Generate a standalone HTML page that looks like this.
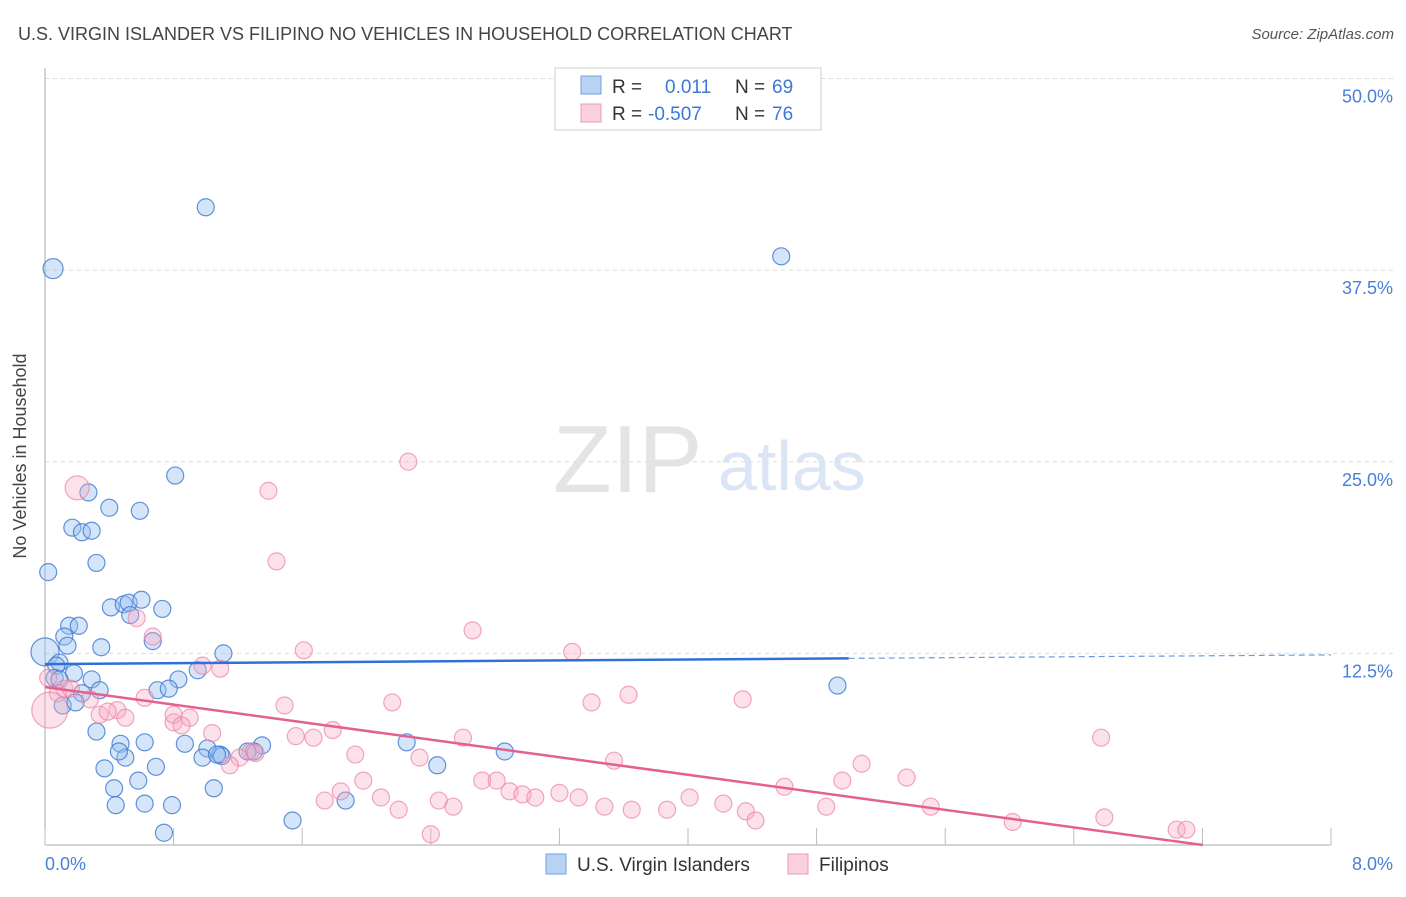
<!DOCTYPE html>
<html><head><meta charset="utf-8"><style>
body{margin:0;background:#fff;font-family:"Liberation Sans",sans-serif}
svg text{font-family:"Liberation Sans",sans-serif}
</style></head><body>
<svg width="1406" height="892" viewBox="0 0 1406 892">
<text x="18" y="40" font-size="18" fill="#444">U.S. VIRGIN ISLANDER VS FILIPINO NO VEHICLES IN HOUSEHOLD CORRELATION CHART</text>
<text x="1394" y="39" font-size="15" fill="#555" font-style="italic" text-anchor="end">Source: ZipAtlas.com</text>
<g>
<text x="553" y="492" font-size="96" fill="#e4e4e4" font-family="Liberation Serif">ZIP</text>
<text x="718" y="490" font-size="70" fill="#dbe6f5">atlas</text>
</g>
<g id="grid"></g>
<g id="axes"></g>
<g id="pts"></g>
<g id="trend"></g>
<text x="26" y="456" font-size="18" fill="#444" text-anchor="middle" transform="rotate(-90 26 456)">No Vehicles in Household</text>
<text x="45" y="870" font-size="18" fill="#4a7fd6">0.0%</text>
<text x="1393" y="870" font-size="18" fill="#4a7fd6" text-anchor="end">8.0%</text>
<g>
<rect x="555" y="68" width="266" height="62" fill="#fff" stroke="#ccc"/>
<rect x="581" y="76" width="20" height="18" fill="#b9d3f5" stroke="#6fa0e0"/>
<rect x="581" y="104" width="20" height="18" fill="#fbd0dd" stroke="#ec9ab3"/>
<text x="612" y="93" font-size="19" fill="#333">R = </text><text x="665" y="93" font-size="19" fill="#3b78d8">0.011</text>
<text x="735" y="93" font-size="19" fill="#333">N = </text><text x="772" y="93" font-size="19" fill="#3b78d8">69</text>
<text x="612" y="120" font-size="19" fill="#333">R = </text><text x="648" y="120" font-size="19" fill="#3b78d8">-0.507</text>
<text x="735" y="120" font-size="19" fill="#333">N = </text><text x="772" y="120" font-size="19" fill="#3b78d8">76</text>
</g>
<g>
<rect x="546" y="854" width="20" height="20" fill="#b9d3f5" stroke="#6fa0e0"/>
<text x="577" y="871" font-size="19" fill="#333">U.S. Virgin Islanders</text>
<rect x="788" y="854" width="20" height="20" fill="#fbd0dd" stroke="#ec9ab3"/>
<text x="819" y="871" font-size="19" fill="#333">Filipinos</text>
</g>
</svg>
<script>
const yTicks=[12.5,25.0,37.5,50.0];
const xTicks=[0,0.8,1.6,2.4,3.2,4.0,4.8,5.6,6.4,7.2,8.0];
const blueX=[1.00,0.05,4.58,0.81,0.27,0.40,0.59,0.17,0.23,0.29,0.32,0.02,0.41,0.49,0.52,0.60,0.73,0.53,0.15,0.21,0.12,0.14,0.67,0.35,1.11,0.00,0.09,0.07,0.18,0.29,0.06,0.83,0.70,0.77,0.34,0.95,0.23,0.11,0.19,0.32,0.62,0.87,0.47,1.01,1.35,1.30,0.98,1.09,0.50,0.46,2.25,2.86,0.37,0.69,2.44,0.58,1.05,0.43,0.44,0.62,0.79,1.87,1.54,0.74,4.93,1.26,1.10,1.07,0.09];
const blueY=[41.6,37.6,38.4,24.1,23.0,22.0,21.8,20.7,20.4,20.5,18.4,17.8,15.5,15.7,15.8,16.0,15.4,15.0,14.3,14.3,13.6,13.0,13.3,12.9,12.5,12.6,11.9,11.7,11.2,10.8,10.9,10.8,10.1,10.2,10.1,11.4,9.9,9.1,9.3,7.4,6.7,6.6,6.6,6.3,6.5,6.1,5.7,5.9,5.7,6.1,6.7,6.1,5.0,5.1,5.2,4.2,3.7,3.7,2.6,2.7,2.6,2.9,1.6,0.8,10.4,6.1,5.8,5.9,10.8];
const pinkX=[2.26,0.20,1.39,1.44,0.57,0.67,2.66,3.28,1.61,0.98,1.09,0.02,0.12,0.08,0.16,0.28,3.63,4.34,2.16,3.40,1.49,0.62,0.34,0.45,0.50,0.39,0.80,0.90,0.80,0.85,1.04,1.56,1.67,1.79,2.60,6.57,1.93,2.33,1.28,1.21,1.31,3.54,1.15,5.08,5.36,1.98,4.96,4.60,2.72,2.81,2.89,2.97,3.05,3.20,3.32,1.74,2.09,2.45,2.54,2.20,4.01,4.22,3.65,3.48,3.87,4.36,4.42,4.86,5.51,6.02,6.59,7.04,7.10,2.40,0.03,1.84];
const pinkY=[25.0,23.3,23.1,18.5,14.8,13.6,14.0,12.6,12.7,11.7,11.5,10.9,10.2,9.9,10.2,9.5,9.8,9.5,9.3,9.3,9.1,9.6,8.5,8.8,8.3,8.7,8.0,8.3,8.5,7.8,7.3,7.1,7.0,7.5,7.0,7.0,5.9,5.7,6.1,5.7,6.0,5.5,5.2,5.3,4.4,4.2,4.2,3.8,4.2,4.2,3.5,3.3,3.1,3.4,3.1,2.9,3.1,2.9,2.5,2.3,3.1,2.7,2.3,2.5,2.3,2.2,1.6,2.5,2.5,1.5,1.8,1.0,1.0,0.7,8.8,3.5];
const blueBig={1:10,25:14};
const pinkBig={1:12,74:18};
const blueTrend=[11.8,12.4];
const pinkTrend=[10.3,-1.43];
const X=v=>45+v*160.75, Y=v=>845-v*15.33;
const NS='http://www.w3.org/2000/svg';
function mk(p,t,a){const e=document.createElementNS(NS,t);for(const k in a)e.setAttribute(k,a[k]);p.appendChild(e);return e;}
const grid=document.getElementById('grid'),axes=document.getElementById('axes'),pts=document.getElementById('pts'),tr=document.getElementById('trend');
yTicks.forEach(v=>{
 const l=mk(grid,'line',{x1:45,x2:1395,y1:Y(v),y2:Y(v),stroke:'#ddd','stroke-dasharray':'4,4'});
 
 
 const t=mk(grid,'text',{x:1393,y:Y(v)+24,'font-size':18,fill:'#4a7fd6','text-anchor':'end'});
 t.textContent=v.toFixed(1)+'%';
 
 
});
const la=mk(axes,'line',{x1:45,x2:45,y1:68,y2:845,stroke:'#aaa'});


const lb=mk(axes,'line',{x1:45,x2:1331,y1:845,y2:845,stroke:'#aaa'});


xTicks.forEach(v=>{
 const t=mk(axes,'line',{x1:X(v),x2:X(v),y1:828,y2:845,stroke:'#bbb'});
 
 
});
function dots(xs,ys,big,fill,stroke,name){
 xs.forEach((x,i)=>{
  const c=mk(pts,'circle',{cx:X(x),cy:Y(ys[i]),r:big[i]||8.5,fill:fill,stroke:stroke,'stroke-width':1.2});
  
  
 });
}
dots(blueX,blueY,blueBig,'rgba(150,190,240,0.4)','rgba(60,120,210,0.8)','point-virgin-islander');
dots(pinkX,pinkY,pinkBig,'rgba(245,170,195,0.35)','rgba(235,130,165,0.7)','point-filipino');
const b1=mk(tr,'line',{x1:X(0),y1:Y(blueTrend[0]),x2:X(5),y2:Y(blueTrend[0]+(blueTrend[1]-blueTrend[0])*5/8),stroke:'#2f6fd6','stroke-width':2.5});


const b2=mk(tr,'line',{x1:X(5),y1:Y(blueTrend[0]+(blueTrend[1]-blueTrend[0])*5/8),x2:X(8),y2:Y(blueTrend[1]),stroke:'#6a9be0','stroke-width':1.2,'stroke-dasharray':'6,4'});


const xEnd=-pinkTrend[0]/pinkTrend[1];
const p1=mk(tr,'line',{x1:X(0),y1:Y(pinkTrend[0]),x2:X(xEnd),y2:Y(0),stroke:'#e4608f','stroke-width':2.5});


</script>
</body></html>
